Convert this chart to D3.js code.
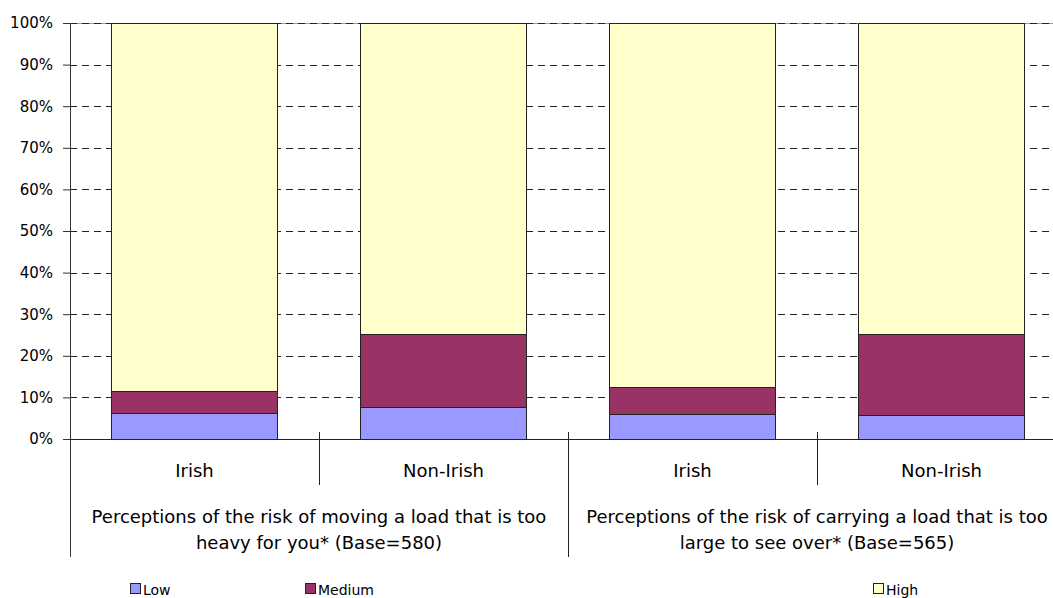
<!DOCTYPE html>
<html>
<head>
<meta charset="utf-8">
<script src="https://cdn.jsdelivr.net/npm/d3@7"></script>
<style>
  body { margin: 0; background: #fff; }
  text { font-family: "DejaVu Sans", Verdana, sans-serif; fill: #000; }
</style>
</head>
<body>
<div id="chart-area"></div>
<script>
// data
const subCategories = ["Irish", "Non-Irish", "Irish", "Non-Irish"];
const groupLabels = [
  ["Perceptions of the risk of moving a load that is too", "heavy for you* (Base=580)"],
  ["Perceptions of the risk of carrying a load that is too", "large to see over* (Base=565)"]
];
const seriesNames = ["Low", "Medium", "High"];
const lowValues = [6.2, 7.6, 6.0, 5.7];
const mediumValues = [5.3, 17.6, 6.5, 19.5];
const highValues = [88.5, 74.8, 87.5, 74.8];
const yTicks = [0, 10, 20, 30, 40, 50, 60, 70, 80, 90, 100];
const colors = ["#9999FF", "#993366", "#FFFFCC"];

const MARGIN = { LEFT: 70, TOP: 23 };
const WIDTH = 996;
const HEIGHT = 416;

const keys = subCategories.map((d, i) => i);
const rows = keys.map(i => ({ key: i, Low: lowValues[i], Medium: mediumValues[i], High: highValues[i] }));
const stacked = d3.stack().keys(seriesNames)(rows);

const x = d3.scaleBand()
  .domain(keys)
  .range([0, WIDTH])
  .paddingInner(0.333)
  .paddingOuter(0.1665);

const y = d3.scaleLinear()
  .domain([0, 100])
  .range([HEIGHT, 0]);

const svg = d3.select("#chart-area").append("svg")
  .attr("width", 1053)
  .attr("height", 598);

const g = svg.append("g")
  .attr("transform", `translate(${MARGIN.LEFT}, ${MARGIN.TOP})`);

// top border of plot area
g.append("line")
  .attr("x1", 0).attr("x2", WIDTH)
  .attr("y1", 0.5).attr("y2", 0.5)
  .attr("stroke", "#999");

// dashed gridlines
g.selectAll(".grid").data(yTicks.filter(d => d > 0)).enter().append("line")
  .attr("class", "grid")
  .attr("x1", 0).attr("x2", WIDTH)
  .attr("y1", d => Math.round(y(d)) + 0.5)
  .attr("y2", d => Math.round(y(d)) + 0.5)
  .attr("stroke", "#222")
  .attr("stroke-dasharray", "7,5");

// stacked bars
g.selectAll(".series").data(stacked).enter().append("g")
  .attr("class", "series")
  .attr("fill", (d, i) => colors[i])
  .selectAll("rect").data(d => d).enter().append("rect")
    .attr("x", d => Math.round(x(d.data.key)) + 0.5)
    .attr("y", d => Math.round(y(d[1])) + 0.5)
    .attr("width", Math.round(x.bandwidth()))
    .attr("height", d => Math.round(y(d[0])) - Math.round(y(d[1])))
    .attr("stroke", "#222")
    .attr("stroke-width", 1);

// y axis
const leftAxis = d3.axisLeft(y)
  .tickValues(yTicks)
  .tickSize(7)
  .tickFormat(d => d + "%");
const yAxisG = g.append("g").call(leftAxis);
yAxisG.select(".domain").remove();
yAxisG.selectAll(".tick line").attr("stroke", "#333");
yAxisG.selectAll(".tick text")
  .attr("x", -17)
  .style("font-size", "15px")
  .style("font-family", "'DejaVu Sans', Verdana, sans-serif");

// y axis line, extending down into the category area
g.append("line")
  .attr("x1", 0.5).attr("x2", 0.5)
  .attr("y1", 0).attr("y2", HEIGHT + 118)
  .attr("stroke", "#333");

// x axis line
g.append("line")
  .attr("x1", 0).attr("x2", WIDTH)
  .attr("y1", HEIGHT + 0.5).attr("y2", HEIGHT + 0.5)
  .attr("stroke", "#222");

// separators between categories
const step = x.step();
const sepX = [1, 2, 3].map(i => Math.round(i * step) + 0.5);
g.selectAll(".sep").data(sepX).enter().append("line")
  .attr("class", "sep")
  .attr("x1", d => d).attr("x2", d => d)
  .attr("y1", HEIGHT - 7)
  .attr("y2", (d, i) => i === 1 ? HEIGHT + 118 : HEIGHT + 46)
  .attr("stroke", "#222");

// category labels
g.selectAll(".cat").data(subCategories).enter().append("text")
  .attr("class", "cat")
  .attr("x", (d, i) => x(i) + x.bandwidth() / 2)
  .attr("y", HEIGHT + 38)
  .attr("text-anchor", "middle")
  .style("font-size", "18px")
  .text(d => d);

// group labels
groupLabels.forEach((lines, gi) => {
  const cx = (gi * 2 + 1) * step;
  lines.forEach((line, li) => {
    g.append("text")
      .attr("x", cx)
      .attr("y", HEIGHT + 84 + li * 26)
      .attr("text-anchor", "middle")
      .style("font-size", "18px")
      .text(line);
  });
});

// legend
const legendX = [130, 305, 873];
const legend = svg.selectAll(".legend").data(seriesNames).enter().append("g")
  .attr("class", "legend")
  .attr("transform", (d, i) => `translate(${legendX[i]}, 583)`);
legend.append("rect")
  .attr("x", 0.5).attr("y", 0.5)
  .attr("width", 10).attr("height", 10)
  .attr("fill", (d, i) => colors[i])
  .attr("stroke", "#222");
legend.append("text")
  .attr("x", 13)
  .attr("y", 12)
  .style("font-size", "14px")
  .text(d => d);
</script>
</body>
</html>
